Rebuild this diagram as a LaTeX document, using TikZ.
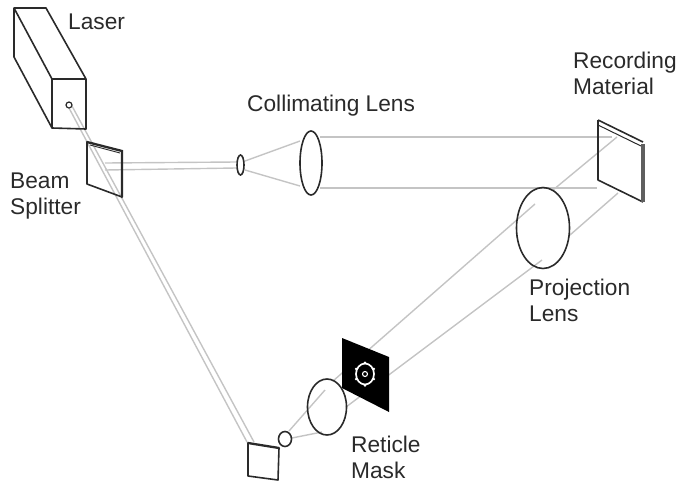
\documentclass[tikz,border=0pt]{standalone}
\usepackage{fontspec}
\setmainfont{Liberation Sans}
\usetikzlibrary{shapes.geometric}
\definecolor{ink}{HTML}{2A2A2A}
\definecolor{beamc}{HTML}{C4C4C4}
\tikzset{
  x=1pt,y=-1pt,
  body/.style={draw=ink,line width=1.6pt,line join=round},
  heavy/.style={draw=ink,line width=2.3pt,line cap=round},
  beamline/.style={draw=beamc,line width=1.4pt},
  lensoval/.style={ellipse,draw=ink,line width=1.6pt,inner sep=0pt,outer sep=0pt},
  lbl/.style={align=left,anchor=west,font=\fontsize{22.7}{26}\selectfont,text=ink,inner sep=0pt}
}
\begin{document}
\begin{tikzpicture}
\useasboundingbox (0,0) rectangle (680,483);
% beams
\draw[beamline] (69,108) -- (247,442);
\draw[beamline] (72,106) -- (254,442);
\draw[beamline] (105,163) -- (236,162);
\draw[beamline] (105,170) -- (236,168);
\draw[beamline] (245,161) -- (300,141);
\draw[beamline] (245,170) -- (300,186);
\draw[beamline] (320,137) -- (612,137);
\draw[beamline] (320,188) -- (597,188);
\draw[beamline] (617,137) -- (553,190);
\draw[beamline] (535,204) -- (333,381);
\draw[beamline] (325,390) -- (289,431);
\draw[beamline] (618,193) -- (570,235);
\draw[beamline] (542,260) -- (346,407);
\draw[beamline] (292,438) -- (322,432);
% laser
\draw[body] (14,8) -- (46,8) -- (86,79) -- (86,129) -- (52,128) -- (14,57) -- cycle;
\draw[body] (14,8) -- (52,79) -- (86,79);
\draw[body] (52,79) -- (52,128);
\node[circle,draw=ink,line width=1.2pt,minimum size=6pt,inner sep=0pt] (hole) at (69,105) {};
% beam splitter
\draw[body] (87,142) -- (87,184) -- (122,197);
\draw[heavy] (87,142) -- (122,151) -- (122,197);
\draw[draw=ink,line width=.9pt] (90,145) -- (120,153);
% small lens and collimating lens
\node[lensoval,minimum width=7pt,minimum height=20pt] (pinhole) at (240.5,165) {};
\node[lensoval,minimum width=22pt,minimum height=64pt] (collim) at (311,163) {};
% recording material
\draw[body] (598,120) -- (598,180) -- (643,202);
\draw[body] (598,120) -- (643,142);
\draw[draw=ink,line width=1pt] (598,125) -- (641,146);
\fill[ink!75] (640.5,144) rectangle (644.5,202);
% projection lens
\node[lensoval,minimum width=53pt,minimum height=81pt] (proj) at (543,228) {};
% mask
\fill[black] (342,338) -- (389,357) -- (389,412) -- (342,388) -- cycle;
\node[ellipse,draw=white,line width=1.7pt,minimum width=18pt,minimum height=21pt,inner sep=0pt] (ring) at (365,374) {};
\foreach \a in {90,30,150,210,330,270}{\fill[white] (ring.\a) circle (1.4);}
\node[circle,draw=white,line width=1.1pt,fill=black,minimum size=5pt,inner sep=0pt] (dot) at (365,374) {};
% relay lens
\node[lensoval,minimum width=39pt,minimum height=56pt] (relay) at (327,407) {};
\node[lensoval,minimum width=13pt,minimum height=15pt] (focus) at (285,439) {};
% folding mirror
\draw[body] (248,443) -- (248,476) -- (278,480) -- (279,448);
\draw[heavy] (248,443) -- (279,448);
% labels
\node[lbl] (laser) at (68,22) {Laser};
\node[lbl] (clens) at (247,106) {Collimating Lens};
\node[lbl] (rec) at (573,73) {Recording\\Material};
\node[lbl] (bs) at (10,196) {Beam\\Splitter};
\node[lbl] (plens) at (529,300) {Projection\\Lens};
\node[lbl] (rm) at (351,457) {Reticle\\Mask};
\end{tikzpicture}
\end{document}
